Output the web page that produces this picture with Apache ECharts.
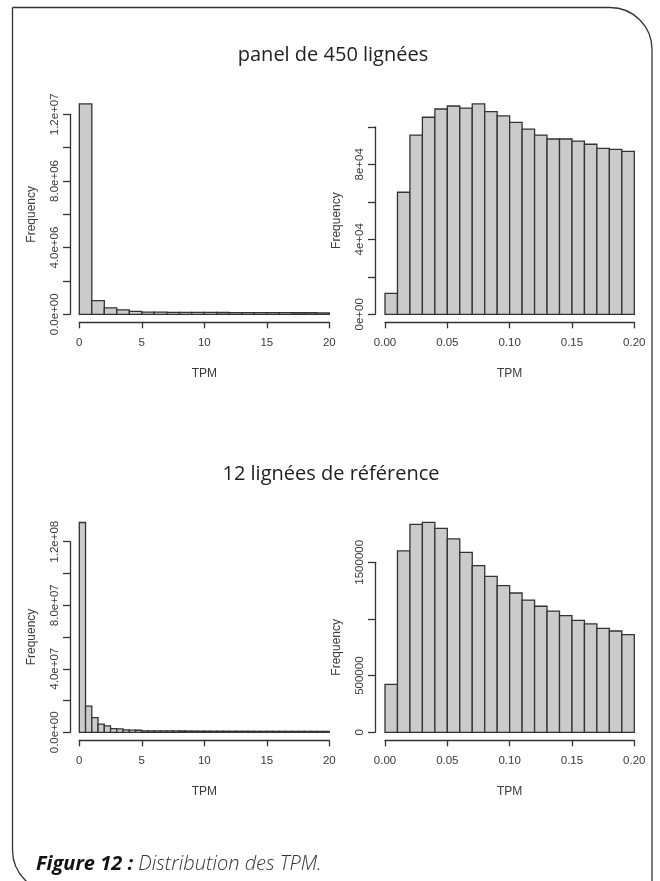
<!DOCTYPE html>
<html>
<head>
<meta charset="utf-8">
<script src="https://cdn.jsdelivr.net/npm/echarts@6/dist/echarts.min.js"></script>
<style>html,body{margin:0;padding:0;background:#fff;}#c{width:660px;height:881px;}</style>
</head>
<body>
<div id="c"></div>
<script>
// ---- Data ----
const titleTop = 'panel de 450 lignées';
const titleBottom = '12 lignées de référence';
const captionBold = 'Figure 12 :';
const captionText = ' Distribution des TPM.';
const xName = 'TPM';
const yName = 'Frequency';

// Top-left: bins of width 1 on [0,20]
const tlBinWidth = 1;
const tlCounts = [12620000, 816000, 380000, 260000, 180000, 130000, 125000, 120000, 115000, 112000,
                  110000, 107000, 105000, 102000, 100000, 98000, 96000, 94000, 92000, 90000];
const tlYLabels = ['0.0e+00', '', '4.0e+06', '', '8.0e+06', '', '1.2e+07'];
const tlXLabels = ['0', '5', '10', '15', '20'];

// Top-right: bins of width 0.01 on [0,0.2]
const trBinWidth = 0.01;
const trCounts = [11200, 65100, 95600, 105100, 109500, 111100, 110000, 112200, 108100, 105800,
                  102400, 98800, 95600, 93500, 93500, 92400, 90700, 88500, 88000, 86900];
const trYLabels = ['0e+00', '', '4e+04', '', '8e+04', ''];
const trXLabels = ['0.00', '0.05', '0.10', '0.15', '0.20'];

// Bottom-left: bins of width 0.5 on [0,20]
const blBinWidth = 0.5;
const blCounts = [132100000, 16500000, 9200000, 5200000, 4000000, 2300000, 2100000, 1500000, 1400000, 1300000,
                  950000, 920000, 900000, 880000, 860000, 840000, 820000, 800000, 780000, 760000,
                  740000, 720000, 710000, 700000, 690000, 680000, 670000, 660000, 650000, 640000,
                  630000, 620000, 615000, 610000, 605000, 600000, 595000, 590000, 585000, 580000];
const blYLabels = ['0.0e+00', '', '4.0e+07', '', '8.0e+07', '', '1.2e+08'];
const blXLabels = ['0', '5', '10', '15', '20'];

// Bottom-right: bins of width 0.01 on [0,0.2]
const brBinWidth = 0.01;
const brCounts = [423500, 1600000, 1835000, 1853000, 1800000, 1706000, 1588000, 1470000, 1376000, 1294000,
                  1229000, 1167000, 1112000, 1070000, 1029000, 988000, 956000, 917000, 894000, 861000];
const brYLabels = ['0', '500000', '', '1500000'];
const brXLabels = ['0.00', '0.05', '0.10', '0.15', '0.20'];

// ---- Chart ----
const chart = echarts.init(document.getElementById('c'), null, {renderer: 'canvas'});

const AXIS_COLOR = '#333';
const TEXT_COLOR = '#3a3a3a';
const FONT = '"Liberation Sans", Arial, sans-serif';
const TITLE_FONT = '"Open Sans", "Noto Sans", sans-serif';

function binsData(counts, w) {
  return counts.map((c, i) => [i * w, (i + 1) * w, c]);
}

function xAxisCfg(gridIndex, min, max, interval, labels) {
  return {
    type: 'value', gridIndex, min, max, interval,
    offset: 8,
    name: xName, nameLocation: 'middle', nameGap: 45,
    nameTextStyle: {fontFamily: FONT, fontSize: 12, color: TEXT_COLOR},
    axisLine: {show: true, onZero: false, lineStyle: {color: AXIS_COLOR, width: 1.3}},
    axisTick: {show: true, length: 6, lineStyle: {color: AXIS_COLOR, width: 1.3}},
    axisLabel: {
      margin: 15, fontFamily: FONT, fontSize: 11.5, color: TEXT_COLOR,
      formatter: (v) => { const s = labels[Math.round((v - min) / interval)]; return s === undefined ? '' : s; }
    },
    splitLine: {show: false}
  };
}

function yAxisCfg(gridIndex, max, interval, labels, offset, nameGap) {
  return {
    type: 'value', gridIndex, min: 0, max, interval,
    offset,
    name: yName, nameLocation: 'middle', nameGap,
    nameTextStyle: {fontFamily: FONT, fontSize: 12, color: TEXT_COLOR},
    axisLine: {show: true, onZero: false, lineStyle: {color: AXIS_COLOR, width: 1.3}},
    axisTick: {show: true, length: 7, lineStyle: {color: AXIS_COLOR, width: 1.3}},
    axisLabel: {
      rotate: 90, margin: 9, fontFamily: FONT, fontSize: 11.5, color: TEXT_COLOR,
      formatter: (v) => { const s = labels[Math.round(v / interval)]; return s === undefined ? '' : s; }
    },
    splitLine: {show: false}
  };
}

function histSeries(idx, counts, w) {
  return {
    type: 'custom',
    xAxisIndex: idx, yAxisIndex: idx,
    clip: false,
    data: binsData(counts, w),
    renderItem: function (params, api) {
      const p0 = api.coord([api.value(0), api.value(2)]);
      const p1 = api.coord([api.value(1), 0]);
      return {
        type: 'rect',
        shape: {x: p0[0], y: p0[1], width: p1[0] - p0[0], height: p1[1] - p0[1]},
        style: {fill: '#cbcbcb', stroke: '#333', lineWidth: 1.3}
      };
    }
  };
}

const borderStyle = {fill: null, stroke: '#333', lineWidth: 1.3};

const option = {
  animation: false,
  backgroundColor: '#fff',
  grid: [
    {left: 79.3, top: 114.3, width: 250, height: 200},
    {left: 385, top: 126.8, width: 249.3, height: 187.5},
    {left: 79.3, top: 541.7, width: 250, height: 190.6},
    {left: 385, top: 562.3, width: 249.3, height: 170}
  ],
  xAxis: [
    xAxisCfg(0, 0, 20, 5, tlXLabels),
    xAxisCfg(1, 0, 0.2, 0.05, trXLabels),
    xAxisCfg(2, 0, 20, 5, blXLabels),
    xAxisCfg(3, 0, 0.2, 0.05, brXLabels)
  ],
  yAxis: [
    yAxisCfg(0, 12000000, 2000000, tlYLabels, 9.3, 32),
    yAxisCfg(1, 100000, 20000, trYLabels, 10, 32),
    yAxisCfg(2, 120000000, 20000000, blYLabels, 9.3, 32),
    yAxisCfg(3, 1500000, 500000, brYLabels, 10, 32)
  ],
  series: [
    histSeries(0, tlCounts, tlBinWidth),
    histSeries(1, trCounts, trBinWidth),
    histSeries(2, blCounts, blBinWidth),
    histSeries(3, brCounts, brBinWidth)
  ],
  graphic: [
    {type: 'line', shape: {x1: 12.5, y1: 850, x2: 12.5, y2: 7.5}, style: borderStyle},
    {type: 'line', shape: {x1: 12.5, y1: 7.5, x2: 610, y2: 7.5}, style: borderStyle},
    {type: 'arc', shape: {cx: 610, cy: 49.5, r: 42, startAngle: -Math.PI / 2, endAngle: 0, clockwise: true}, style: borderStyle},
    {type: 'line', shape: {x1: 652, y1: 49.5, x2: 652, y2: 900}, style: borderStyle},
    {type: 'arc', shape: {cx: 54.5, cy: 850, r: 42, startAngle: Math.PI / 2, endAngle: Math.PI, clockwise: true}, style: borderStyle},
    {
      type: 'text', x: 333, y: 55,
      style: {text: titleTop, fontFamily: TITLE_FONT, fontSize: 20, fill: '#222', textAlign: 'center', textVerticalAlign: 'middle'}
    },
    {
      type: 'text', x: 331, y: 474,
      style: {text: titleBottom, fontFamily: TITLE_FONT, fontSize: 20, fill: '#222', textAlign: 'center', textVerticalAlign: 'middle'}
    },
    {
      type: 'text', x: 36, y: 864,
      style: {
        text: '{b|' + captionBold + '}{n|' + captionText + '}',
        textVerticalAlign: 'middle',
        rich: {
          b: {fontFamily: TITLE_FONT, fontStyle: 'italic', fontWeight: 'bold', fontSize: 20, fill: '#111'},
          n: {fontFamily: TITLE_FONT, fontStyle: 'italic', fontWeight: 300, fontSize: 20, fill: '#333'}
        }
      }
    }
  ]
};
chart.setOption(option);
</script>
</body>
</html>
